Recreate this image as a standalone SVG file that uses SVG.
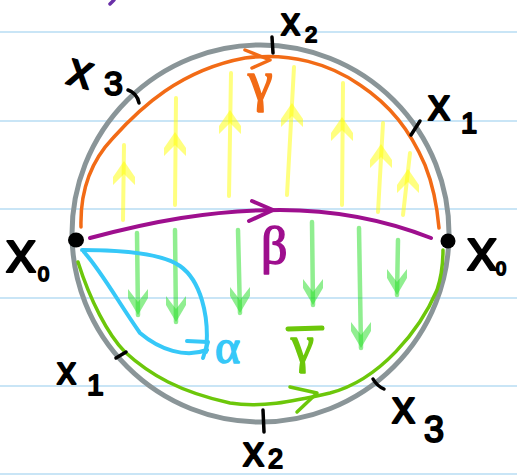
<svg xmlns="http://www.w3.org/2000/svg" width="517" height="475" viewBox="0 0 517 475">
<style>
.rule{stroke:#c9e5f6;stroke-width:2}
.ink{fill:none;stroke-linecap:round;stroke-linejoin:round}
.tick{fill:none;stroke:#000;stroke-width:3.5;stroke-linecap:round}
.lbl{font-family:"Liberation Sans","DejaVu Sans",sans-serif;fill:#000;stroke:#000;stroke-width:2;stroke-linejoin:round}
.greek{font-family:"Liberation Serif","DejaVu Serif",serif;stroke-width:1.5;stroke-linejoin:round}
.yl{stroke:#ffff00;stroke-width:4;stroke-opacity:0.5;stroke-linecap:round;fill:none}
.yh{fill:#ffff00;fill-opacity:0.5}
.gl{stroke:#22dd22;stroke-width:4.5;stroke-opacity:0.5;stroke-linecap:round;fill:none}
.gh{fill:#22dd22;fill-opacity:0.5}
</style>
<defs>
<path id="yhead" d="M0,0 L11,16 L11,24 L0,13 L-11,24 L-11,16 Z"/>
<path id="ghead" d="M0,0 L-10,-17 L-10,-26 L0,-13 L10,-26 L10,-17 Z"/>
</defs>
<rect width="517" height="475" fill="#ffffff"/>
<g id="ruling">
<line class="rule" x1="0" y1="32" x2="517" y2="32"/>
<line class="rule" x1="0" y1="121" x2="517" y2="121"/>
<line class="rule" x1="0" y1="209" x2="517" y2="209"/>
<line class="rule" x1="0" y1="298" x2="517" y2="298"/>
<line class="rule" x1="0" y1="386" x2="517" y2="386"/>
<line class="rule" x1="0" y1="474" x2="517" y2="474"/>
</g>
<path d="M110,4 L114,0" stroke="#6a30a8" stroke-width="3.5" stroke-linecap="round" fill="none"/>
<g id="field-up">
<path class="yl" d="M123,220 L124,145"/><use href="#yhead" class="yh" x="124" y="161"/>
<path class="yl" d="M175,205 L176,98"/><use href="#yhead" class="yh" x="175" y="132"/>
<path class="yl" d="M229,196 L231,73"/><use href="#yhead" class="yh" x="230" y="110"/>
<path class="yl" d="M287,195 L294,67"/><use href="#yhead" class="yh" x="292" y="103"/>
<path class="yl" d="M342,205 L343,83"/><use href="#yhead" class="yh" x="342" y="117"/>
<path class="yl" d="M378,212 L383,123"/><use href="#yhead" class="yh" x="381" y="144"/>
<path class="yl" d="M403,215 L410,153"/><use href="#yhead" class="yh" x="408" y="169"/>
</g>
<g id="field-down">
<path class="gl" d="M137,233 L138,315"/><use href="#ghead" class="gh" x="138" y="315"/>
<path class="gl" d="M175,230 L176,322"/><use href="#ghead" class="gh" x="176" y="322"/>
<path class="gl" d="M238,230 L240,313"/><use href="#ghead" class="gh" x="240" y="313"/>
<path class="gl" d="M312,222 L313,305"/><use href="#ghead" class="gh" x="313" y="305"/>
<path class="gl" d="M359,228 L361,348"/><use href="#ghead" class="gh" x="361" y="348"/>
<path class="gl" d="M398,240 L397,295"/><use href="#ghead" class="gh" x="397" y="295"/>
</g>
<g id="circle">
<circle cx="260.5" cy="233.5" r="188.5" fill="none" stroke="#8a9598" stroke-width="5"/>
</g>
<g id="connectors">
<g id="gamma-path" class="ink" stroke="#f26b16" stroke-width="3.5">
<path d="M81,227 C80,190 92,160 113,138 C140,108 180,70 245,58 C290,52 330,64 360,85 C390,105 410,130 425,165 C433,185 437,205 439,228"/>
<path d="M245,50 L270,60 L252,68"/>
</g>
<g id="beta-path" class="ink" stroke="#9e0f8e" stroke-width="4">
<path d="M90,238 C150,222 210,210 280,210 C340,210 390,222 431,238"/>
<path d="M252,201 L273,210 L249,221"/>
</g>
<g id="alpha-path" class="ink" stroke="#36c8f8" stroke-width="4">
<path d="M82,250 C110,250 160,252 180,266 C200,280 210,315 206,352"/>
<path d="M84,252 C102,272 120,305 140,333 C160,350 185,358 207,350"/>
<path d="M187,341 L208,342 L203,358"/>
</g>
<g id="gammabar-path" class="ink" stroke="#6cc70a" stroke-width="3.5">
<path d="M78,262 C90,300 108,335 125,352 C150,375 180,392 230,403 C260,408 290,402 330,393 C380,380 420,330 437,290 C442,275 443,262 443,250"/>
<path d="M290,387 L317,393 L297,412"/>
</g>
</g>
<g id="ticks">
<path class="tick" d="M272,37 L273,53"/>
<path class="tick" d="M128,90 Q137,93 139,103"/>
<path class="tick" d="M411,135 L420,121"/>
<path class="tick" d="M116,358 L126,352"/>
<path class="tick" d="M263,410 L264,432"/>
<path class="tick" d="M373,379 Q377,386 384,389"/>
</g>
<g id="node-x0-left">
<ellipse cx="76" cy="240" rx="8" ry="7.5" fill="#000"/>
<text class="lbl" x="6" y="272" font-size="60">x</text>
<text class="lbl" x="38" y="281" font-size="20">0</text>
</g>
<g id="node-x0-right">
<ellipse cx="448" cy="241" rx="7.5" ry="7.5" fill="#000"/>
<text class="lbl" x="467" y="270" font-size="60">x</text>
<text class="lbl" x="496" y="275" font-size="18">0</text>
</g>
<g id="label-top-x2"><text class="lbl" x="281" y="35" font-size="38">x</text><text class="lbl" x="305" y="42" font-size="22">2</text></g>
<g id="label-top-x3"><text class="lbl" x="68" y="88" font-size="48" transform="rotate(15 85 75)">x</text><text class="lbl" x="104" y="95" font-size="34">3</text></g>
<g id="label-top-x1"><text class="lbl" x="428" y="120" font-size="44">x</text><text class="lbl" x="461" y="133" font-size="29">1</text></g>
<g id="label-bot-x1"><text class="lbl" x="57" y="384" font-size="38">x</text><text class="lbl" x="87" y="395" font-size="30">1</text></g>
<g id="label-bot-x2"><text class="lbl" x="243" y="466" font-size="42">x</text><text class="lbl" x="268" y="468" font-size="27">2</text></g>
<g id="label-bot-x3"><text class="lbl" x="392" y="423" font-size="46">x</text><text class="lbl" x="424" y="442" font-size="36">3</text></g>
<g id="label-gamma"><text class="greek" x="248" y="100" font-size="56" fill="#f26b16" stroke="#f26b16">γ</text></g>
<g id="label-beta"><text class="greek" x="261" y="263" font-size="52" fill="#9e0f8e" stroke="#9e0f8e">β</text></g>
<g id="label-alpha"><text class="greek" x="215" y="363" font-size="48" fill="#36c8f8" stroke="#36c8f8">α</text></g>
<g id="label-gammabar"><line x1="288" y1="329" x2="322" y2="328" stroke="#6cc70a" stroke-width="5" stroke-linecap="round"/><text class="greek" x="291" y="362" font-size="52" fill="#6cc70a" stroke="#6cc70a">γ</text></g>
</svg>
